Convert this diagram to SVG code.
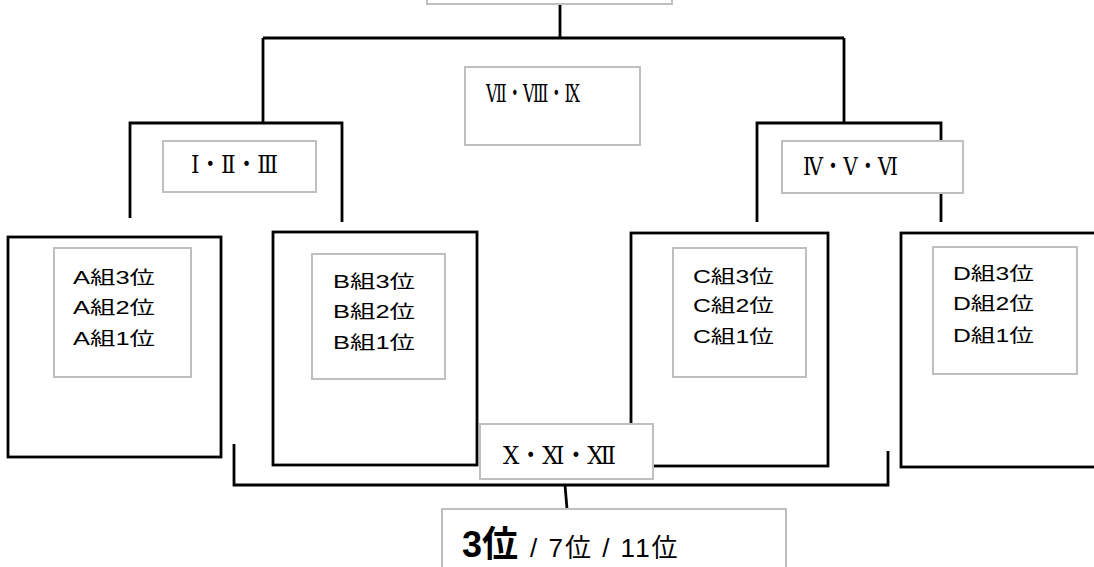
<svg xmlns="http://www.w3.org/2000/svg" width="1094" height="567" viewBox="0 0 1094 567">
<style>
.blk{fill:none;stroke:#000;stroke-width:2.8}
.outer{fill:#fff;stroke:#000;stroke-width:2.8}
.gray{fill:#fff;stroke:#bfbfbf;stroke-width:2}
.grp{font-family:"Liberation Sans","Noto Sans CJK JP",sans-serif;font-size:18px;fill:#000}
.rom{font-family:"DejaVu Serif","Noto Sans CJK JP",serif;font-size:25px;fill:#000}
.res{font-family:"Liberation Sans","Noto Sans CJK JP",sans-serif;fill:#000}
</style>
<rect width="1094" height="567" fill="#fff"/>
<g id="connectors">
  <path class="blk" d="M560,4 V38 M263,38 H844 M263,38 V123 M844,38 V123"/>
  <path class="blk" d="M130,218 V123 H342 V222"/>
  <path class="blk" d="M757,222 V123 H941 V222"/>
  <path class="blk" d="M234,444 V485 H888 V451"/>
  <path class="blk" d="M565,485 L567,509"/>
</g>
<g id="final">
  <rect class="gray" x="427" y="-10" width="245" height="14"/>
</g>
<g id="m789">
  <rect class="gray" x="465" y="67" width="175" height="78"/>
  <text class="rom" x="486" y="102" textLength="94" lengthAdjust="spacingAndGlyphs">Ⅶ・Ⅷ・Ⅸ</text>
</g>
<g id="m123">
  <rect class="gray" x="163" y="141" width="153" height="51"/>
  <text class="rom" x="191" y="173" textLength="87" lengthAdjust="spacingAndGlyphs">Ⅰ・Ⅱ・Ⅲ</text>
</g>
<g id="m456">
  <rect class="gray" x="782" y="141" width="181" height="52"/>
  <text class="rom" x="803" y="175" textLength="95" lengthAdjust="spacingAndGlyphs">Ⅳ・Ⅴ・Ⅵ</text>
</g>
<g id="groupA">
  <rect class="outer" x="8" y="237" width="213" height="220"/>
  <rect class="gray" x="54" y="248" width="137" height="129"/>
  <text class="grp" x="73" y="284" textLength="82" lengthAdjust="spacingAndGlyphs">A組3位</text>
  <text class="grp" x="73" y="314" textLength="82" lengthAdjust="spacingAndGlyphs">A組2位</text>
  <text class="grp" x="73" y="345" textLength="82" lengthAdjust="spacingAndGlyphs">A組1位</text>
</g>
<g id="groupB">
  <rect class="outer" x="273" y="232" width="204" height="233"/>
  <rect class="gray" x="312" y="254" width="133" height="125"/>
  <text class="grp" x="333" y="288" textLength="82" lengthAdjust="spacingAndGlyphs">B組3位</text>
  <text class="grp" x="333" y="318" textLength="82" lengthAdjust="spacingAndGlyphs">B組2位</text>
  <text class="grp" x="333" y="349" textLength="82" lengthAdjust="spacingAndGlyphs">B組1位</text>
</g>
<g id="groupC">
  <rect class="outer" x="631" y="233" width="197" height="233"/>
  <rect class="gray" x="673" y="248" width="133" height="129"/>
  <text class="grp" x="693" y="283" textLength="81" lengthAdjust="spacingAndGlyphs">C組3位</text>
  <text class="grp" x="693" y="312" textLength="81" lengthAdjust="spacingAndGlyphs">C組2位</text>
  <text class="grp" x="693" y="343" textLength="81" lengthAdjust="spacingAndGlyphs">C組1位</text>
</g>
<g id="groupD">
  <rect class="outer" x="901" y="233" width="200" height="234"/>
  <rect class="gray" x="933" y="247" width="144" height="127"/>
  <text class="grp" x="953" y="280" textLength="81" lengthAdjust="spacingAndGlyphs">D組3位</text>
  <text class="grp" x="953" y="310" textLength="81" lengthAdjust="spacingAndGlyphs">D組2位</text>
  <text class="grp" x="953" y="342" textLength="81" lengthAdjust="spacingAndGlyphs">D組1位</text>
</g>
<g id="m101112">
  <rect class="gray" x="480" y="424" width="173" height="55"/>
  <text class="rom" x="503" y="464" font-size="30" textLength="113" lengthAdjust="spacingAndGlyphs">Ⅹ・Ⅺ・Ⅻ</text>
</g>
<g id="result">
  <rect class="gray" x="442" y="509" width="344" height="70"/>
  <text class="res" x="462" y="557"><tspan font-size="36" font-weight="bold">3位</tspan><tspan font-size="26" dx="12" letter-spacing="2">/ 7位 / 11位</tspan></text>
</g>
</svg>
